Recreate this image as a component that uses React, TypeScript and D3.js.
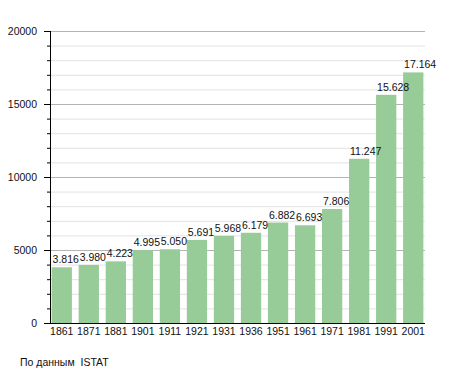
import React, { useEffect, useRef } from "react";
import * as d3 from "d3";

const years = ["1861", "1871", "1881", "1901", "1911", "1921", "1931", "1936", "1951", "1961", "1971", "1981", "1991", "2001"];
const population = [3816, 3980, 4223, 4995, 5050, 5691, 5968, 6179, 6882, 6693, 7806, 11247, 15628, 17164];
const majorTicks = [0, 5000, 10000, 15000, 20000];
const sourceNote = "По данным  ISTAT";

const App = () => {
  const ref = useRef<SVGSVGElement>(null);

  useEffect(() => {
    const svg = d3.select(ref.current);
    svg.selectAll("*").remove();

    const left = 50;
    const right = 425;
    const top = 31;
    const bottom = 323;
    const font = "Liberation Sans, Arial, sans-serif";
    const fs = 10.5;

    const x = d3.scaleBand<string>().domain(years).range([left, right]).paddingInner(0.25).paddingOuter(0.06);
    const y = d3.scaleLinear().domain([0, 20000]).range([bottom, top]);

    const minor = d3.range(1000, 20000, 1000).filter((v) => v % 5000 !== 0);

    svg.append("g")
      .selectAll("line")
      .data(minor)
      .join("line")
      .attr("x1", left)
      .attr("x2", right)
      .attr("y1", (d) => y(d) + 0.5)
      .attr("y2", (d) => y(d) + 0.5)
      .attr("stroke", "#e2e2e2");

    svg.append("g")
      .selectAll("line")
      .data(majorTicks.filter((d) => d > 0))
      .join("line")
      .attr("x1", left)
      .attr("x2", right)
      .attr("y1", (d) => y(d) + 0.5)
      .attr("y2", (d) => y(d) + 0.5)
      .attr("stroke", "#b4b4b4");

    svg.append("g")
      .selectAll("rect")
      .data(population)
      .join("rect")
      .attr("x", (d, i) => x(years[i])!)
      .attr("y", (d) => y(d))
      .attr("width", x.bandwidth())
      .attr("height", (d) => bottom - y(d))
      .attr("fill", "#97cb97");

    const fmt = (v: number) => d3.format(",")(v).replace(",", ".");

    // value labels start at the bar's left edge
    svg.append("g")
      .selectAll("text")
      .data(population)
      .join("text")
      .attr("x", (d, i) => x(years[i])! + 1)
      .attr("y", (d) => y(d) - 4)
      .attr("font-family", font)
      .attr("font-size", fs)
      .attr("fill", "#111")
      .text((d) => fmt(d));

    // y axis with minor ticks
    svg.append("line")
      .attr("x1", left + 0.5).attr("x2", left + 0.5)
      .attr("y1", top).attr("y2", bottom + 0.5)
      .attr("stroke", "#000");
    svg.append("g")
      .selectAll("line")
      .data(minor)
      .join("line")
      .attr("x1", left - 3).attr("x2", left)
      .attr("y1", (d) => y(d) + 0.5).attr("y2", (d) => y(d) + 0.5)
      .attr("stroke", "#000");
    svg.append("g")
      .selectAll("line")
      .data(majorTicks)
      .join("line")
      .attr("x1", left - 6).attr("x2", left)
      .attr("y1", (d) => y(d) + 0.5).attr("y2", (d) => y(d) + 0.5)
      .attr("stroke", "#000");
    svg.append("g")
      .selectAll("text")
      .data(majorTicks)
      .join("text")
      .attr("x", left - 13)
      .attr("y", (d) => y(d) + 4)
      .attr("text-anchor", "end")
      .attr("font-family", font)
      .attr("font-size", fs)
      .attr("fill", "#111")
      .text((d) => String(d));

    // x axis
    svg.append("line")
      .attr("x1", left).attr("x2", right)
      .attr("y1", bottom + 0.5).attr("y2", bottom + 0.5)
      .attr("stroke", "#000");
    svg.append("g")
      .selectAll("text")
      .data(years)
      .join("text")
      .attr("x", (d) => x(d)! + x.bandwidth() / 2)
      .attr("y", bottom + 12)
      .attr("text-anchor", "middle")
      .attr("font-family", font)
      .attr("font-size", fs)
      .attr("fill", "#111")
      .text((d) => d);

    svg.append("text")
      .attr("x", 20)
      .attr("y", 366)
      .attr("font-family", font)
      .attr("font-size", fs)
      .attr("fill", "#111")
      .style("white-space", "pre")
      .text(sourceNote);
  }, []);

  return (
    <svg
      ref={ref}
      width={455}
      height={373}
      style={{ position: "absolute", left: 0, top: 0, background: "#fff" }}
    />
  );
};

export default App;
